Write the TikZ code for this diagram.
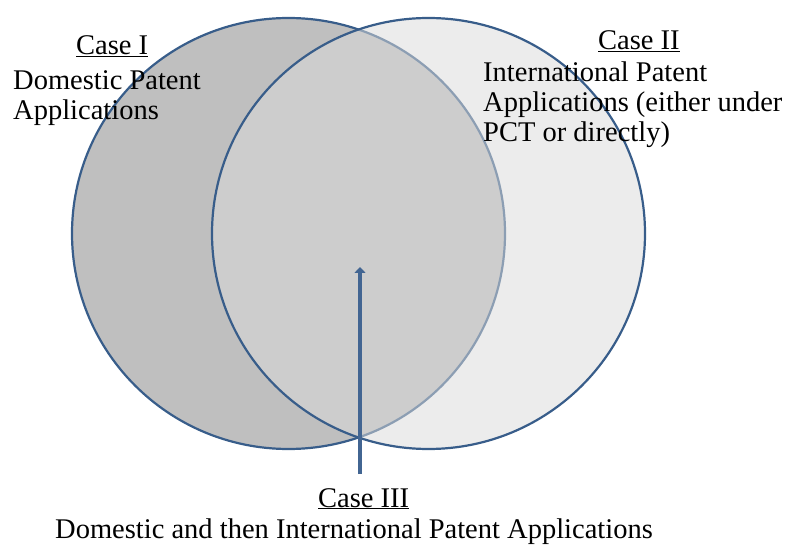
\documentclass[tikz,border=0pt]{standalone}
\usepackage{fontspec}
\setmainfont{Liberation Serif}
\usetikzlibrary{arrows.meta}
\definecolor{rimblue}{RGB}{56,93,138}
\definecolor{arrowblue}{RGB}{66,101,146}
\definecolor{darkfill}{RGB}{191,191,191}
\definecolor{lightfill}{RGB}{218,218,218}

\begin{document}
\begin{tikzpicture}[x=1pt,y=-1pt,
    venn/.style={draw=rimblue,line width=2.2pt},
    txt/.style={inner sep=0pt,anchor=base west,font=\fontsize{28.5}{30}\selectfont}]
      \useasboundingbox (0,0) rectangle (787,545);

      % the two sets
      \path[venn,fill=darkfill] (288.5,233.5) ellipse [x radius=216.5,y radius=215.5];
      \path[venn,fill=lightfill,fill opacity=0.52] (428.5,233.5) ellipse [x radius=216.5,y radius=215.5];

      \node[txt] (casei) at (76,55) {\underline{Case I}};
      \node[txt] (domi) at (13,90) {Domestic Patent};
      \node[txt] (appi) at (13,120) {Applications};

      \node[txt] (caseii) at (598,50) {\underline{Case II}};
      \node[txt] (intii) at (483,82) {International Patent};
      \node[txt] (appii) at (483,112) {Applications (either under};
      \node[txt] (pctii) at (483,142) {PCT or directly)};

      \node[txt] (caseiii) at (318,507) {\underline{Case III}};
      \node[txt] (domiii) at (55,538) {Domestic and then International Patent Applications};

      \coordinate (foot) at (360,474);
      \coordinate (tip) at (360,267);
      \draw[arrowblue,line width=4pt,-{Triangle[width=11pt,length=6pt]}] (foot) -- (tip);
\end{tikzpicture}
\end{document}
